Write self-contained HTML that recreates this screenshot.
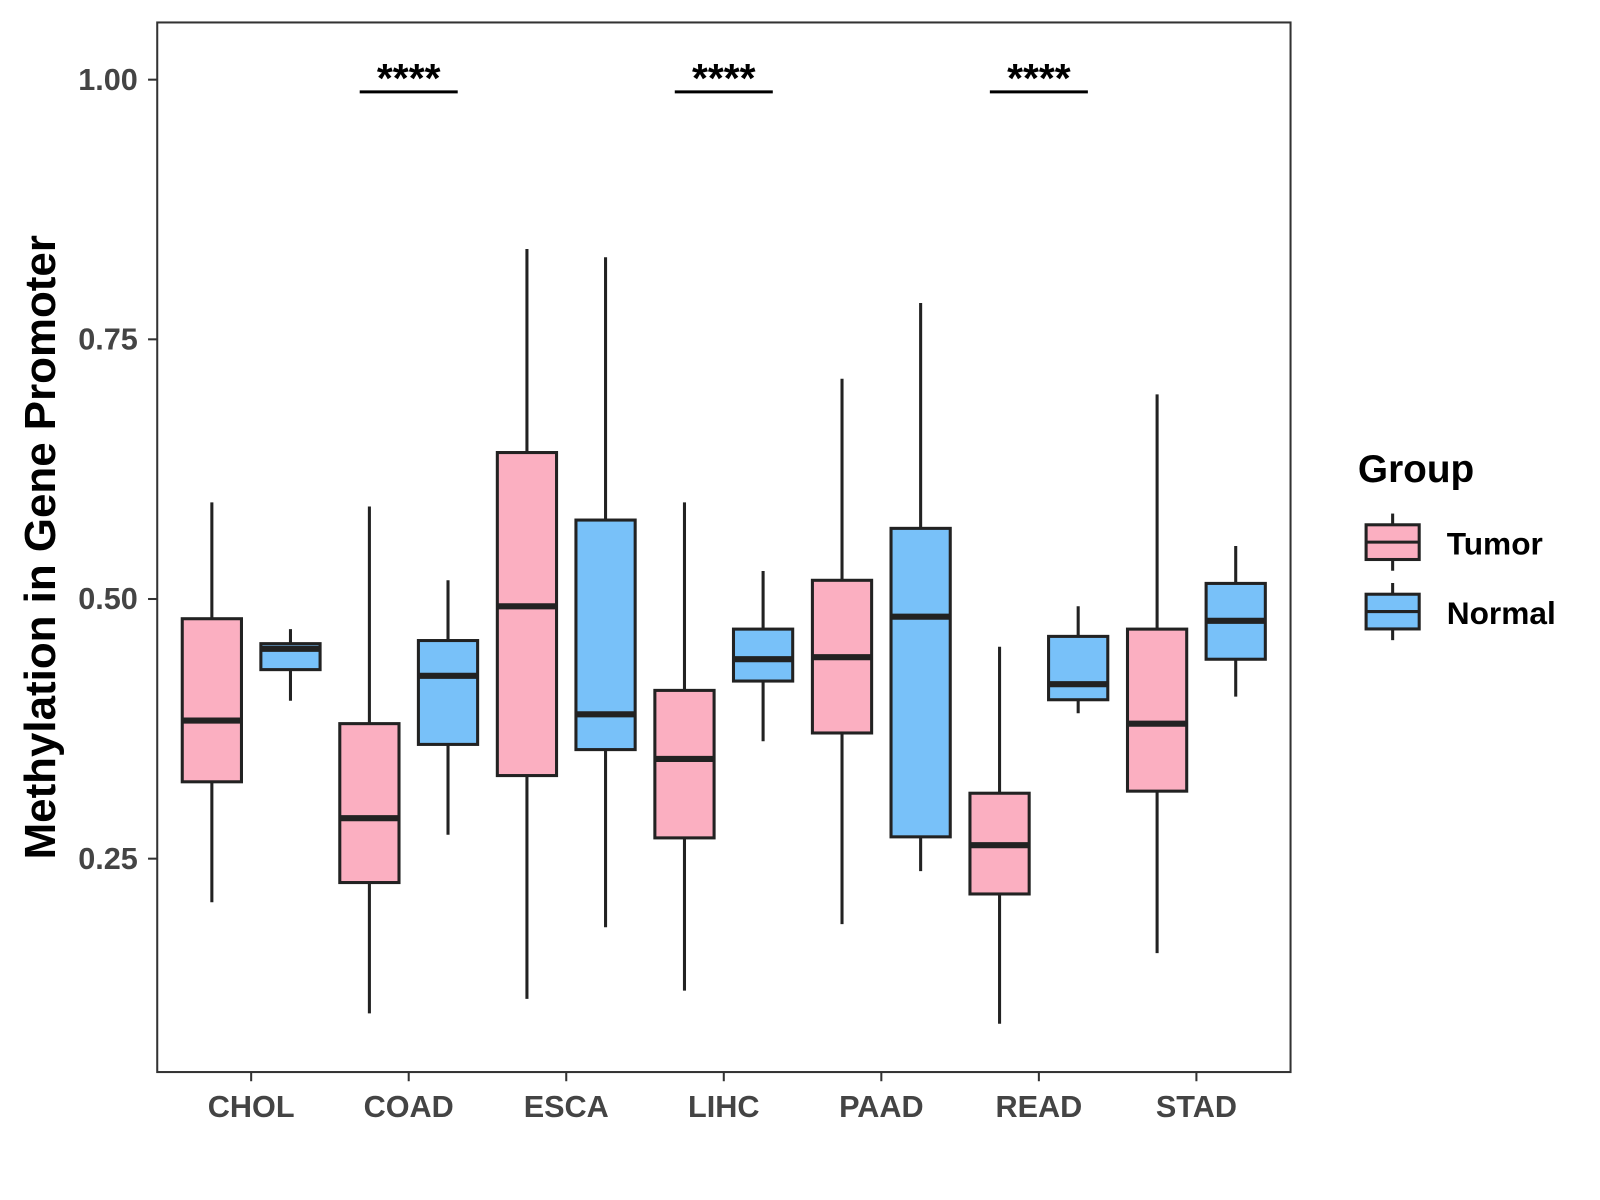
<!DOCTYPE html>
<html><head><meta charset="utf-8"><style>body{margin:0;background:#fff}svg{display:block}</style></head>
<body>
<svg width="1600" height="1200" xmlns="http://www.w3.org/2000/svg" font-family="Liberation Sans, Arial, sans-serif">
<rect x="0" y="0" width="1600" height="1200" fill="#fff"/>
<g transform="scale(1.021)">
<g id="plot"></g>
<text x="54" y="536" transform="rotate(-90 54 536)" text-anchor="middle" font-size="43" font-weight="bold" fill="#000">Methylation in Gene Promoter</text>
<g>
<text x="1330" y="472" font-size="38" font-weight="bold">Group</text>
<g>
<line x1="1364" y1="503" x2="1364" y2="559" stroke="#222" stroke-width="3"/>
<rect x="1338" y="514" width="52" height="34" fill="#fbafc1" stroke="#222" stroke-width="3"/>
<line x1="1338" y1="531" x2="1390" y2="531" stroke="#222" stroke-width="3"/>
<text x="1417" y="543" font-size="31" font-weight="bold">Tumor</text></g>
<g>
<line x1="1364" y1="571" x2="1364" y2="627" stroke="#222" stroke-width="3"/>
<rect x="1338" y="582" width="52" height="34" fill="#78c1f9" stroke="#222" stroke-width="3"/>
<line x1="1338" y1="599" x2="1390" y2="599" stroke="#222" stroke-width="3"/>
<text x="1417" y="611" font-size="31" font-weight="bold">Normal</text></g>
</g>
</g>
</svg>
<script>
const categories=["CHOL","COAD","ESCA","LIHC","PAAD","READ","STAD"];
const tumorLow=[0.208,0.101,0.115,0.123,0.187,0.091,0.159];
const tumorQ1=[0.324,0.227,0.330,0.270,0.371,0.216,0.315];
const tumorMed=[0.383,0.289,0.493,0.346,0.444,0.263,0.380];
const tumorQ3=[0.481,0.380,0.641,0.412,0.518,0.313,0.471];
const tumorHigh=[0.593,0.589,0.837,0.593,0.712,0.454,0.697];
const normalLow=[0.402,0.273,0.184,0.363,0.238,0.390,0.406];
const normalQ1=[0.432,0.360,0.355,0.421,0.271,0.403,0.442];
const normalMed=[0.452,0.426,0.389,0.442,0.483,0.418,0.479];
const normalQ3=[0.457,0.460,0.576,0.471,0.568,0.464,0.515];
const normalHigh=[0.471,0.518,0.829,0.527,0.785,0.493,0.551];
const yTicks=[0.25,0.5,0.75,1.0];
const yTickLabels=["0.25","0.50","0.75","1.00"];
const sigCategories=["COAD","LIHC","READ"];
const sigLabels=["****","****","****"];

const NS="http://www.w3.org/2000/svg";
const L=154,R=1264,T=22,B=1050;
const y=v=>841-(v-0.25)*1017.3;
const x=i=>246+i*154.3;
const g=document.getElementById('plot');
function mk(tag,attrs,parent){const e=document.createElementNS(NS,tag);for(const k in attrs)e.setAttribute(k,attrs[k]);(parent||g).appendChild(e);return e;}
yTicks.forEach((v,i)=>{
  const t=mk('line',{x1:L-9,x2:L,y1:y(v),y2:y(v),stroke:'#333','stroke-width':2});
  
  
  const tx=mk('text',{x:L-19,y:y(v)+10,'text-anchor':'end','font-size':30,'font-weight':'bold',fill:'#444'});
  tx.textContent=yTickLabels[i];
  
  
});
categories.forEach((c,i)=>{
  const t=mk('line',{x1:x(i),x2:x(i),y1:B,y2:B+9,stroke:'#333','stroke-width':2});
  
  
  const tx=mk('text',{x:x(i),y:1094,'text-anchor':'middle','font-size':30,'font-weight':'bold',fill:'#444'});
  tx.textContent=c;
  
  
});
function box(cx,lo,q1,md,q3,hi,fill,name){
  const grp=mk('g',{});
  
  
  mk('line',{x1:cx,x2:cx,y1:y(hi),y2:y(lo),stroke:'#222','stroke-width':3},grp);
  mk('rect',{x:cx-29,y:y(q3),width:58,height:y(q1)-y(q3),fill:fill,stroke:'#222','stroke-width':3},grp);
  mk('line',{x1:cx-29,x2:cx+29,y1:y(md),y2:y(md),stroke:'#222','stroke-width':6},grp);
}
categories.forEach((c,i)=>{
  box(x(i)-38.5,tumorLow[i],tumorQ1[i],tumorMed[i],tumorQ3[i],tumorHigh[i],'#fbafc1','box-tumor-'+c.toLowerCase());
  box(x(i)+38.5,normalLow[i],normalQ1[i],normalMed[i],normalQ3[i],normalHigh[i],'#78c1f9','box-normal-'+c.toLowerCase());
});
sigCategories.forEach((c,j)=>{
  const i=categories.indexOf(c);
  const l=mk('line',{x1:x(i)-48,x2:x(i)+48,y1:90,y2:90,stroke:'#000','stroke-width':3});
  
  
  const t=mk('text',{x:x(i),y:90,'text-anchor':'middle','font-size':40,'font-weight':'bold',fill:'#000'});
  t.textContent=sigLabels[j];
  
  
});
const fr=mk('rect',{x:L,y:T,width:R-L,height:B-T,fill:'none',stroke:'#333','stroke-width':2});


</script>
</body></html>
